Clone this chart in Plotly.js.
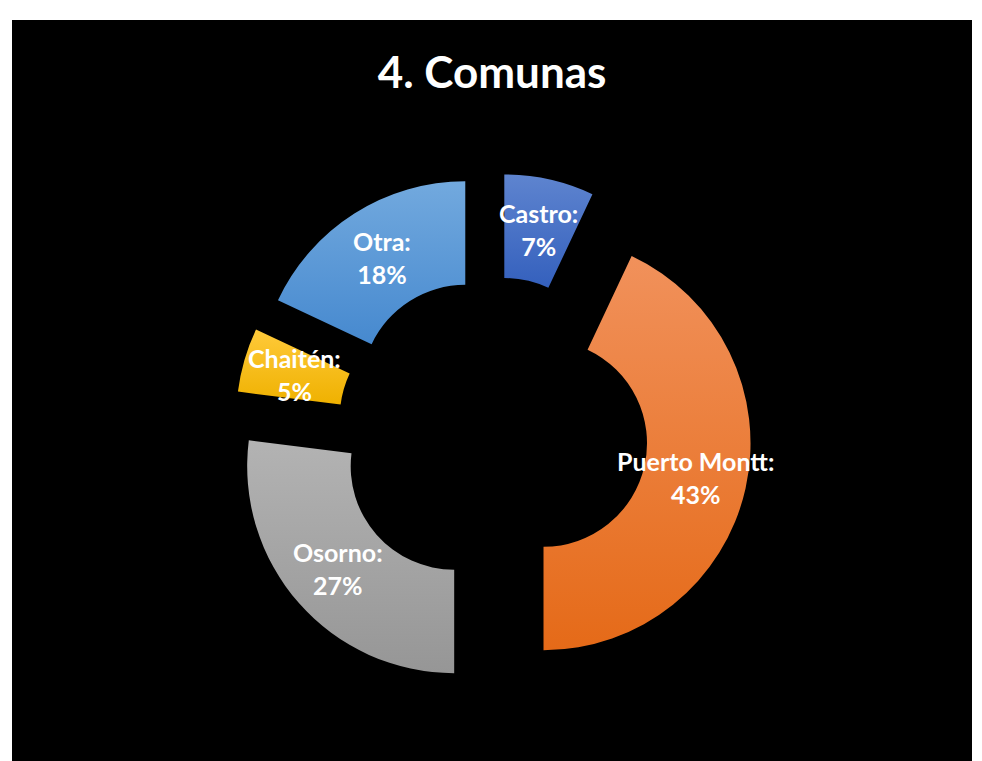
<!DOCTYPE html>
<html>
<head>
<meta charset="utf-8">
<script src="https://cdn.plot.ly/plotly-3.0.1.min.js"></script>
<style>
  html, body { margin: 0; padding: 0; background: #ffffff; width: 982px; height: 761px; overflow: hidden; }
  #chart { position: absolute; left: 12px; top: 20px; width: 960px; height: 741px; }
</style>
</head>
<body>
<div id="chart"></div>
<script>
// ---- data ----
const categories = ["Castro", "Puerto Montt", "Osorno", "Chaitén", "Otra"];
const values = [7, 43, 27, 5, 18];
const colors = ["#4472C4", "#ED7D31", "#A5A5A5", "#FFC000", "#5B9BD5"];
const gradTop = ["#5e84cf", "#f1915b", "#b3b3b3", "#ffca3a", "#72a9de"];
const gradBottom = ["#3460bd", "#e56a18", "#969696", "#efb100", "#4689cf"];
const chartTitle = "4. Comunas";

// ---- geometry ----
const W = 960, H = 741;
const domX = [0.2315, 0.7706];
const domY = [0.0948, 0.7932];
const pull = 0.25;
const hole = 0.5;
const FONT = "Lato, 'Open Sans', sans-serif";

// pie center / radius as plotly computes them (margins 0)
const boxW = W * (domX[1] - domX[0]);
const boxH = H * (domY[1] - domY[0]);
const R = Math.min(boxW, boxH) / (2 + 2 * pull);
const cx = W * (domX[0] + domX[1]) / 2;
const cy = H * (1 - domY[0]) - boxH / 2;

const total = values.reduce((a, b) => a + b, 0);
let cum = 0;
const annotations = [];
values.forEach((v, i) => {
  const theta = 2 * Math.PI * (cum + v / 2) / total;
  cum += v;
  const d = pull * R + (R + hole * R) / 2;
  const px = cx + d * Math.sin(theta);
  const py = cy - d * Math.cos(theta);
  annotations.push({
    xref: "paper", yref: "paper",
    x: px / W, y: 1 - py / H,
    xanchor: "center", yanchor: "middle",
    showarrow: false,
    text: categories[i] + ":<br>" + Math.round(100 * v / total) + "%",
    font: { family: FONT, size: 25, color: "#ffffff", weight: "bold" }
  });
});

const trace = {
  type: "pie",
  labels: categories,
  values: values,
  hole: hole,
  pull: values.map(() => pull),
  sort: false,
  direction: "clockwise",
  rotation: 0,
  textinfo: "none",
  hoverinfo: "none",
  marker: { colors: colors, line: { width: 0 } },
  domain: { x: domX, y: domY },
  showlegend: false
};

const layout = {
  width: W, height: H,
  paper_bgcolor: "#000000",
  plot_bgcolor: "#000000",
  margin: { l: 0, r: 0, t: 0, b: 0 },
  showlegend: false,
  title: {
    text: "<b>" + chartTitle + "</b>",
    x: 0.5, xanchor: "center",
    y: 1 - 53 / H, yanchor: "middle",
    font: { family: FONT, size: 44, color: "#ffffff" }
  },
  annotations: annotations
};

Plotly.newPlot("chart", [trace], layout, { staticPlot: true, displayModeBar: false }).then(function (gd) {
  const svg = gd.querySelector("svg.main-svg");
  if (!svg) return;
  const ns = "http://www.w3.org/2000/svg";
  let defs = svg.querySelector("defs");
  if (!defs) { defs = document.createElementNS(ns, "defs"); svg.insertBefore(defs, svg.firstChild); }
  const paths = gd.querySelectorAll("g.slice path.surface");
  paths.forEach(function (p, i) {
    if (i >= gradTop.length) return;
    const g = document.createElementNS(ns, "linearGradient");
    g.setAttribute("id", "sliceGrad" + i);
    g.setAttribute("x1", "0"); g.setAttribute("y1", "0");
    g.setAttribute("x2", "0"); g.setAttribute("y2", "1");
    const s1 = document.createElementNS(ns, "stop");
    s1.setAttribute("offset", "0"); s1.setAttribute("stop-color", gradTop[i]);
    const s2 = document.createElementNS(ns, "stop");
    s2.setAttribute("offset", "1"); s2.setAttribute("stop-color", gradBottom[i]);
    g.appendChild(s1); g.appendChild(s2);
    defs.appendChild(g);
    p.style.fill = "url(#sliceGrad" + i + ")";
  });
});
</script>
</body>
</html>
